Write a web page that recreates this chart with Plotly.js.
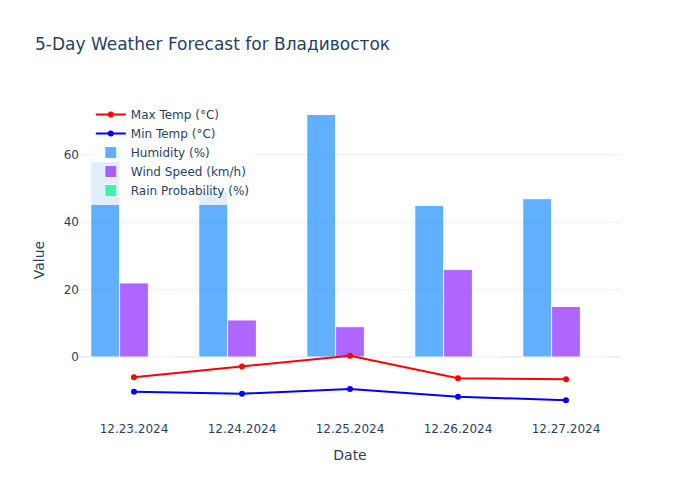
<!DOCTYPE html>
<html>
<head>
<meta charset="utf-8">
<script src="https://cdn.plot.ly/plotly-3.0.1.min.js"></script>
<style>html,body{margin:0;padding:0;background:#fff;}#chart{width:700px;height:500px;}</style>
</head>
<body>
<div id="chart"></div>
<script>
const dates = ["12.23.2024", "12.24.2024", "12.25.2024", "12.26.2024", "12.27.2024"];
const maxTemp = [-6.0, -2.8, 0.4, -6.3, -6.6];
const minTemp = [-10.3, -10.9, -9.5, -11.8, -12.8];
const humidity = [58, 49, 72, 45, 47];
const windSpeed = [22, 11, 9, 26, 15];
const rainProb = [0, 0, 0, 0, 0];

const traces = [
  {type: "scatter", mode: "lines+markers", name: "Max Temp (°C)", x: dates, y: maxTemp,
   line: {color: "red", width: 2}, marker: {color: "red", size: 6}},
  {type: "scatter", mode: "lines+markers", name: "Min Temp (°C)", x: dates, y: minTemp,
   line: {color: "blue", width: 2}, marker: {color: "blue", size: 6}},
  {type: "bar", name: "Humidity (%)", x: dates, y: humidity,
   marker: {color: "#1E90FF", line: {color: "white", width: 1}}, opacity: 0.7},
  {type: "bar", name: "Wind Speed (km/h)", x: dates, y: windSpeed,
   marker: {color: "#8e25ff", line: {color: "white", width: 1}}, opacity: 0.7},
  {type: "bar", name: "Rain Probability (%)", x: dates, y: rainProb,
   marker: {color: "#05f08c", line: {color: "white", width: 1}}, opacity: 0.7}
];

const layout = {
  width: 700, height: 500,
  title: {text: "5-Day Weather Forecast for Владивосток", x: 0.05, font: {size: 17, color: "#2a3f5f"}},
  font: {family: "'DejaVu Sans', verdana, arial, sans-serif", color: "#2a3f5f", size: 12},
  barmode: "group",
  xaxis: {title: {text: "Date", standoff: 15}, automargin: true, type: "category", showgrid: false, showline: false, ticks: ""},
  yaxis: {title: {text: "Value", standoff: 15}, automargin: true, range: [-18.7, 76.3], gridcolor: "#EBF0F8", zerolinecolor: "#EBF0F8", zerolinewidth: 2, dtick: 20, showline: false, ticks: ""},
  legend: {x: 0.02, y: 1.0, xanchor: "left", yanchor: "top", bgcolor: "rgba(255,255,255,0.8)"},
  margin: {l: 80, r: 80, t: 100, b: 80},
  plot_bgcolor: "white", paper_bgcolor: "white"
};

Plotly.newPlot("chart", traces, layout, {displayModeBar: false});
</script>
</body>
</html>
